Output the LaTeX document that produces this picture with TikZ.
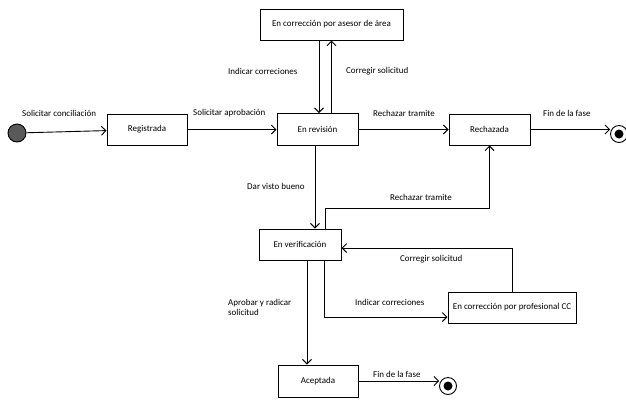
\documentclass[tikz,border=0pt]{standalone}
\usepackage{fontspec}
\setmainfont{Carlito}
\usetikzlibrary{arrows.meta}

\begin{document}
\begin{tikzpicture}[x=1bp, y=-1bp,
        state/.style={draw, line width=1bp, minimum height=31bp, inner sep=0pt, font=\fontsize{9}{10.5}\selectfont},
        lbl/.style={anchor=west, inner sep=0pt, font=\fontsize{9}{10.5}\selectfont},
        trans/.style={-{Straight Barb[length=4.5bp, width=9bp]}, line width=0.9bp},
        final/.style={circle, draw, line width=0.9bp, fill=white, minimum size=17bp, inner sep=0pt}]
        \useasboundingbox (0,0) rectangle (626,401);

        % estados
        \node[circle, draw, line width=0.9bp, fill=black!65, minimum size=18bp, inner sep=0pt] at (17, 133) (ini) {};
        \node[state, minimum width=80bp] at (147, 129.5) (reg) {Registrada};
        \node[state, minimum width=81bp, minimum height=32bp] at (317.5, 129.5) (rev) {En revisión};
        \node[state, minimum width=143bp] at (331.5, 24.5) (ase) {En corrección por asesor de área};
        \node[state, minimum width=81bp] at (489.5, 129.5) (rec) {Rechazada};
        \node[final] at (619, 134) (fin1) {};
        \fill (fin1) circle (4.5bp);
        \node[state, minimum width=82bp] at (300, 244.5) (ver) {En verificación};
        \node[state, minimum width=128bp] at (512, 307.5) (pro) {En corrección por profesional CC};
        \node[state, minimum width=80bp, minimum height=32bp] at (318, 381) (ace) {Aceptada};
        \node[final] at (448, 386) (fin2) {};
        \fill (fin2) circle (4.5bp);

        \coordinate (k1) at (489.5, 208);

        % transiciones
        \draw[trans] (ini) -- (reg);
        \draw[trans] (reg) -- (rev);
        \draw[trans] ([xshift=-12.5bp]ase.south) -- ([xshift=-12.5bp]ase.south |- rev.north);
        \draw[trans] (ase.south |- rev.north) -- (ase.south);
        \draw[trans] (rev) -- (rec);
        \draw[trans] (rec.east) -- (rec.east -| fin1.west);
        \draw[trans] ([xshift=-2.5bp]rev.south) -- ([xshift=-2.5bp]rev.south |- ver.north);
        \draw[trans] ([xshift=25bp]ver.north) |- (k1) -- (rec.south);
        \draw[trans] ([xshift=7bp]ver.south) -- ([xshift=7bp]ver.south |- ace.north);
        \draw[trans] ([xshift=24bp]ver.south) |- ([yshift=-9.5bp]pro.west);
        \draw[trans] (pro.north) |- ([yshift=-3.5bp]ver.east);
        \draw[trans] (ace.east) -- (ace.east -| fin2.west);

        % etiquetas
        \node[lbl] at (22, 113) (l1) {Solicitar conciliación};
        \node[lbl] at (193, 113) (l2) {Solicitar aprobación};
        \node[lbl] at (228, 71) (l3) {Indicar correciones};
        \node[lbl] at (346, 71) (l4) {Corregir solicitud};
        \node[lbl] at (373, 113) (l5) {Rechazar tramite};
        \node[lbl] at (543, 113) (l6) {Fin de la fase};
        \node[lbl] at (247, 186) (l7) {Dar visto bueno};
        \node[lbl] at (390, 197) (l8) {Rechazar tramite};
        \node[lbl] at (400, 259) (l9) {Corregir solicitud};
        \node[lbl] at (355, 302) (l10) {Indicar correciones};
        \node[lbl, align=left] at (228, 307.5) (l11) {Aprobar y radicar\\solicitud};
        \node[lbl] at (373, 374) (l12) {Fin de la fase};
    \end{tikzpicture}
\end{document}
